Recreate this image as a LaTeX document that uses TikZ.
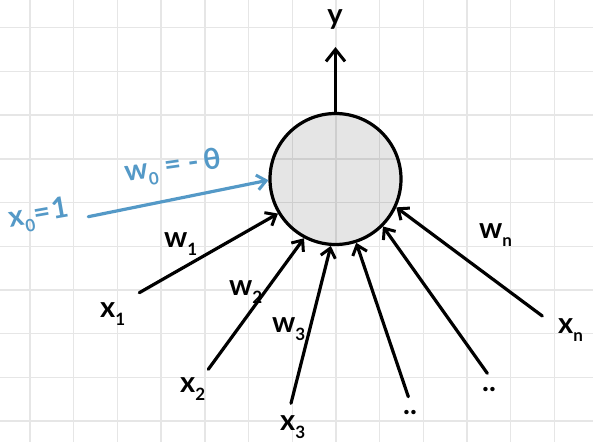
\documentclass[tikz,border=0pt]{standalone}
\usepackage{fontspec}
\setmainfont{Lato}
\usetikzlibrary{arrows.meta}
\definecolor{gridc}{HTML}{E6E6E6}
\definecolor{bluec}{HTML}{5499C7}
\newcommand{\lsub}[1]{\raisebox{-0.28em}{\fontsize{17}{17}\selectfont #1}}
\begin{document}
\begin{tikzpicture}[x=1pt,y=-1pt,
  gridline/.style={gridc,line width=1.4pt},
  inarrow/.style={line width=3.2pt,line cap=round,-{Straight Barb[length=9pt,width=15pt,line width=3pt]}},
  bluearrow/.style={bluec,line width=3.2pt,line cap=round,-{Straight Barb[length=9pt,width=15pt,line width=3pt]}},
  outarrow/.style={line width=3.2pt,line cap=round,-{Straight Barb[length=12pt,width=19pt,line width=3pt]}},
  lab/.style={font=\fontsize{29}{30}\selectfont\bfseries, inner sep=0pt},
  bluelab/.style={lab,text=bluec},
  neuron/.style={circle,minimum size=131pt,inner sep=0pt,draw=black,line width=3.2pt,fill=black,fill opacity=0.1,draw opacity=1}
]
\useasboundingbox (0,0) rectangle (593,442);
\fill[white] (0,0) rectangle (593,442);
% grid
\foreach \k in {0,...,12} {
  \draw[gridline] ({30+43.7*\k},0) -- ({30+43.7*\k},442);
}
\foreach \k in {0,...,9} {
  \draw[gridline] (0,{27.7+43.7*\k}) -- (593,{27.7+43.7*\k});
}
% neuron
\node[neuron] (c) at (335.5,179) {};
% output
\coordinate (yend) at (335.5,47);
\draw[outarrow] (c.north) -- (yend);
\node[lab,anchor=base] (ylab) at (335,24) {y};
% inputs start points
\coordinate (s1) at (139.3,292.7);
\coordinate (s2) at (208.3,369.3);
\coordinate (s3) at (291,403.3);
\coordinate (s4) at (408.3,396.7);
\coordinate (s5) at (487.3,373.3);
\coordinate (sn) at (542.3,316);
\coordinate (s0) at (88.3,216.7);
\draw[inarrow] (s1) -- (c.211.5);
\draw[inarrow] (s2) -- (c.242);
\draw[inarrow] (s3) -- (c.266.8);
\draw[inarrow] (s4) -- (c.288.2);
\draw[inarrow] (s5) -- (c.315);
\draw[inarrow] (sn) -- (c.335);
\draw[bluearrow] (s0) -- (c.181);
% labels
\node[lab,anchor=base west] (x1) at (100,317) {x\lsub{1}};
\node[lab,anchor=base west] (x2) at (180,392) {x\lsub{2}};
\node[lab,anchor=base west] (x3) at (280,430) {x\lsub{3}};
\node[lab,anchor=base] (x4) at (410,414) {..};
\node[lab,anchor=base] (x5) at (489,391) {..};
\node[lab,anchor=base west] (xn) at (558,333) {x\lsub{n}};
\node[lab,anchor=base west] (w1) at (164,247) {w\lsub{1}};
\node[lab,anchor=base west] (w2) at (229,295) {w\lsub{2}};
\node[lab,anchor=base west] (w3) at (272,332) {w\lsub{3}};
\node[lab,anchor=base west] (wn) at (479,238) {w\lsub{n}};
\node[bluelab,rotate=8] (w0) at (173,168) {w\lsub{0} = -\,θ};
\node[bluelab,rotate=10] (x0) at (39,216) {x\lsub{0}\kern1pt=\kern1pt1};
\end{tikzpicture}
\end{document}
